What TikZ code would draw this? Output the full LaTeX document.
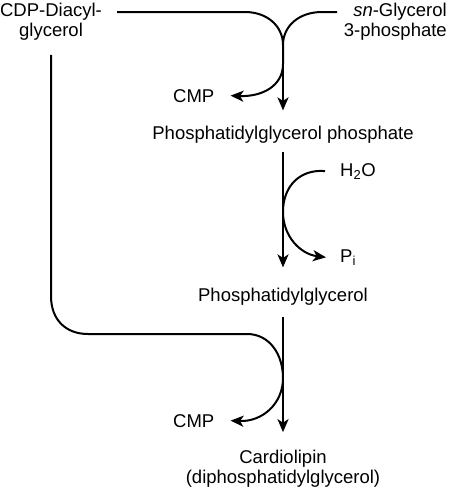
\documentclass[tikz,border=0pt]{standalone}
\usepackage{fontspec}
\setmainfont{Liberation Sans}
\usetikzlibrary{arrows.meta}
\begin{document}
\begin{tikzpicture}[
  x=1pt, y=-1pt,
  clline/.style = {line width=2pt},
  clarrow/.style = {clline, -{Stealth[length=13pt, width=11pt, inset=3.5pt]}},
  cllbl/.style = {font=\fontsize{18.5}{20}\selectfont, inner sep=0pt}
]
  \useasboundingbox (0,0) rectangle (449,491);
  % substrates
  \node[cllbl, align=center] (cdp) at (51,22) {CDP-Diacyl-\\glycerol};
  \node[cllbl, align=right, anchor=east] (g3p) at (447,22) {\textit{sn}-Glycerol\\3-phosphate};
  % products and side products
  \node[cllbl, anchor=base west] (cmp1) at (173,102) {CMP};
  \node[cllbl, anchor=base] (pgp) at (283,139) {Phosphatidylglycerol phosphate};
  \node[cllbl, anchor=base west] (h2o) at (340,176) {H\textsubscript{2}O};
  \node[cllbl, anchor=base west] (pi) at (340,262) {P\textsubscript{i}};
  \node[cllbl, anchor=base] (pg) at (283,301) {Phosphatidylglycerol};
  \node[cllbl, anchor=base west] (cmp2) at (173,427) {CMP};
  \node[cllbl, align=center] (card) at (283,469) {Cardiolipin\\(diphosphatidylglycerol)};
  % step 1
  \coordinate (cdpout) at (117,12);
  \coordinate (g3pout) at (337,12);
  \coordinate (j1) at (283,45);
  \draw[clline] (cdpout) -- (245,12) .. controls (267,12) and (283,26) .. (j1);
  \draw[clline] (g3pout) -- (322,12) .. controls (299,12) and (283,26) .. (j1);
  \draw[clarrow] (j1) -- (283,64) .. controls (283,86) and (262,97) .. ([xshift=16pt]cmp1.east);
  \draw[clarrow] (j1) -- ([yshift=15pt]pgp.north);
  % step 2
  \draw[clarrow] ([yshift=-9pt]pgp.south) -- ([yshift=20pt]pg.north);
  \draw[clarrow] ([xshift=-15pt]h2o.west) .. controls (300,169) and (283,186) .. (283,212)
    .. controls (283,236) and (300,254) .. ([xshift=-14pt]pi.west);
  % step 3
  \draw[clarrow] ([yshift=-14pt]cdp.south) -- (51,296) .. controls (51,320) and (66,334) .. (88,334)
    -- (247,334) .. controls (270,334) and (283,355) .. (283,378)
    .. controls (283,404) and (262,422) .. ([xshift=16pt]cmp2.east);
  \draw[clarrow] ([yshift=-12pt]pg.south) -- ([yshift=18pt]card.north);
\end{tikzpicture}
\end{document}
